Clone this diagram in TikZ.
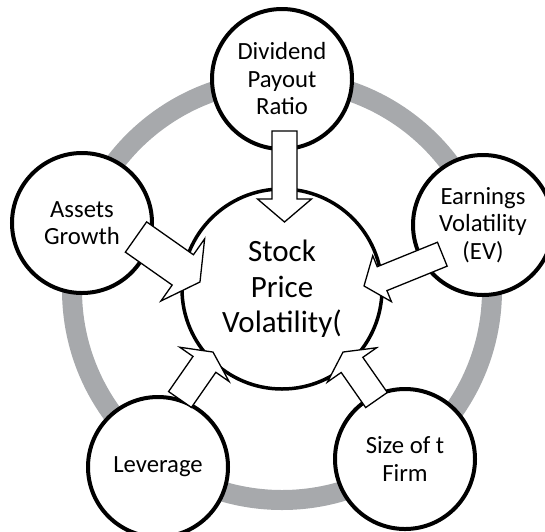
\documentclass[tikz,border=0pt]{standalone}
\usepackage{fontspec}
\setmainfont{Carlito}
\usetikzlibrary{calc}
\definecolor{ringgray}{RGB}{167,169,172}
\tikzset{
  outer/.style={circle, draw=black, line width=4pt, fill=white, minimum size=140pt,
    inner sep=0pt, align=center, font=\fontsize{24.7}{27.5}\selectfont},
  hub/.style={circle, draw=black, line width=3.5pt, fill=white, minimum size=200pt,
    inner sep=0pt, align=center, font=\fontsize{31}{35.7}\selectfont},
  blockarr/.style={draw=black, line width=1.3pt, fill=white, line join=miter},
  pics/barrow/.style n args={4}{code={
    \draw[blockarr] (0,-#2) -- (#1,-#2) -- (#1,-#3) -- (#1+#4,0) -- (#1,#3) -- (#1,#2) -- (0,#2) -- cycle;}}
}
\begin{document}
\begin{tikzpicture}[x=1pt,y=-1pt]
\useasboundingbox (0,0) rectangle (545,531);
% ring
\node[circle, draw=ringgray, line width=20pt, minimum size=420pt, inner sep=0pt] (ring) at (282,290) {};
% circles
\node[outer] (top)   at (282,79)  {Dividend\\Payout\\Ratio};
\node[outer] (left)  at (82,223)  {Assets\\Growth};
\node[outer] (right) at (483,225) {Earnings\\Volatility\\(EV)};
\node[outer] (bl)    at (158,467) {Leverage};
\node[outer] (br)    at (405,459) {Size of t\\Firm};
\node[hub]   (hub)   at (282,289) {Stock\\Price\\Volatility(};
% arrow tails
\coordinate (tTop)   at (284.5,131);
\coordinate (tLeft)  at (136,237);
\coordinate (tRight) at (442.3,254.2);
\coordinate (tBL)    at (180,399.5);
\coordinate (tBR)    at (376.5,400);
% block arrows
\path (tTop)   pic[rotate=-90]    {barrow={68}{12.5}{27}{23}};
\path (tLeft)  pic[rotate=-35.1]  {barrow={57.2}{18.5}{38}{21}};
\path (tRight) pic[rotate=-157.9] {barrow={65}{12.9}{24.8}{19.5}};
\path (tBL)    pic[rotate=55.2]   {barrow={42.8}{13.9}{30}{15}};
\path (tBR)    pic[rotate=124.9]  {barrow={42.8}{13.2}{30}{15.7}};
\end{tikzpicture}
\end{document}
